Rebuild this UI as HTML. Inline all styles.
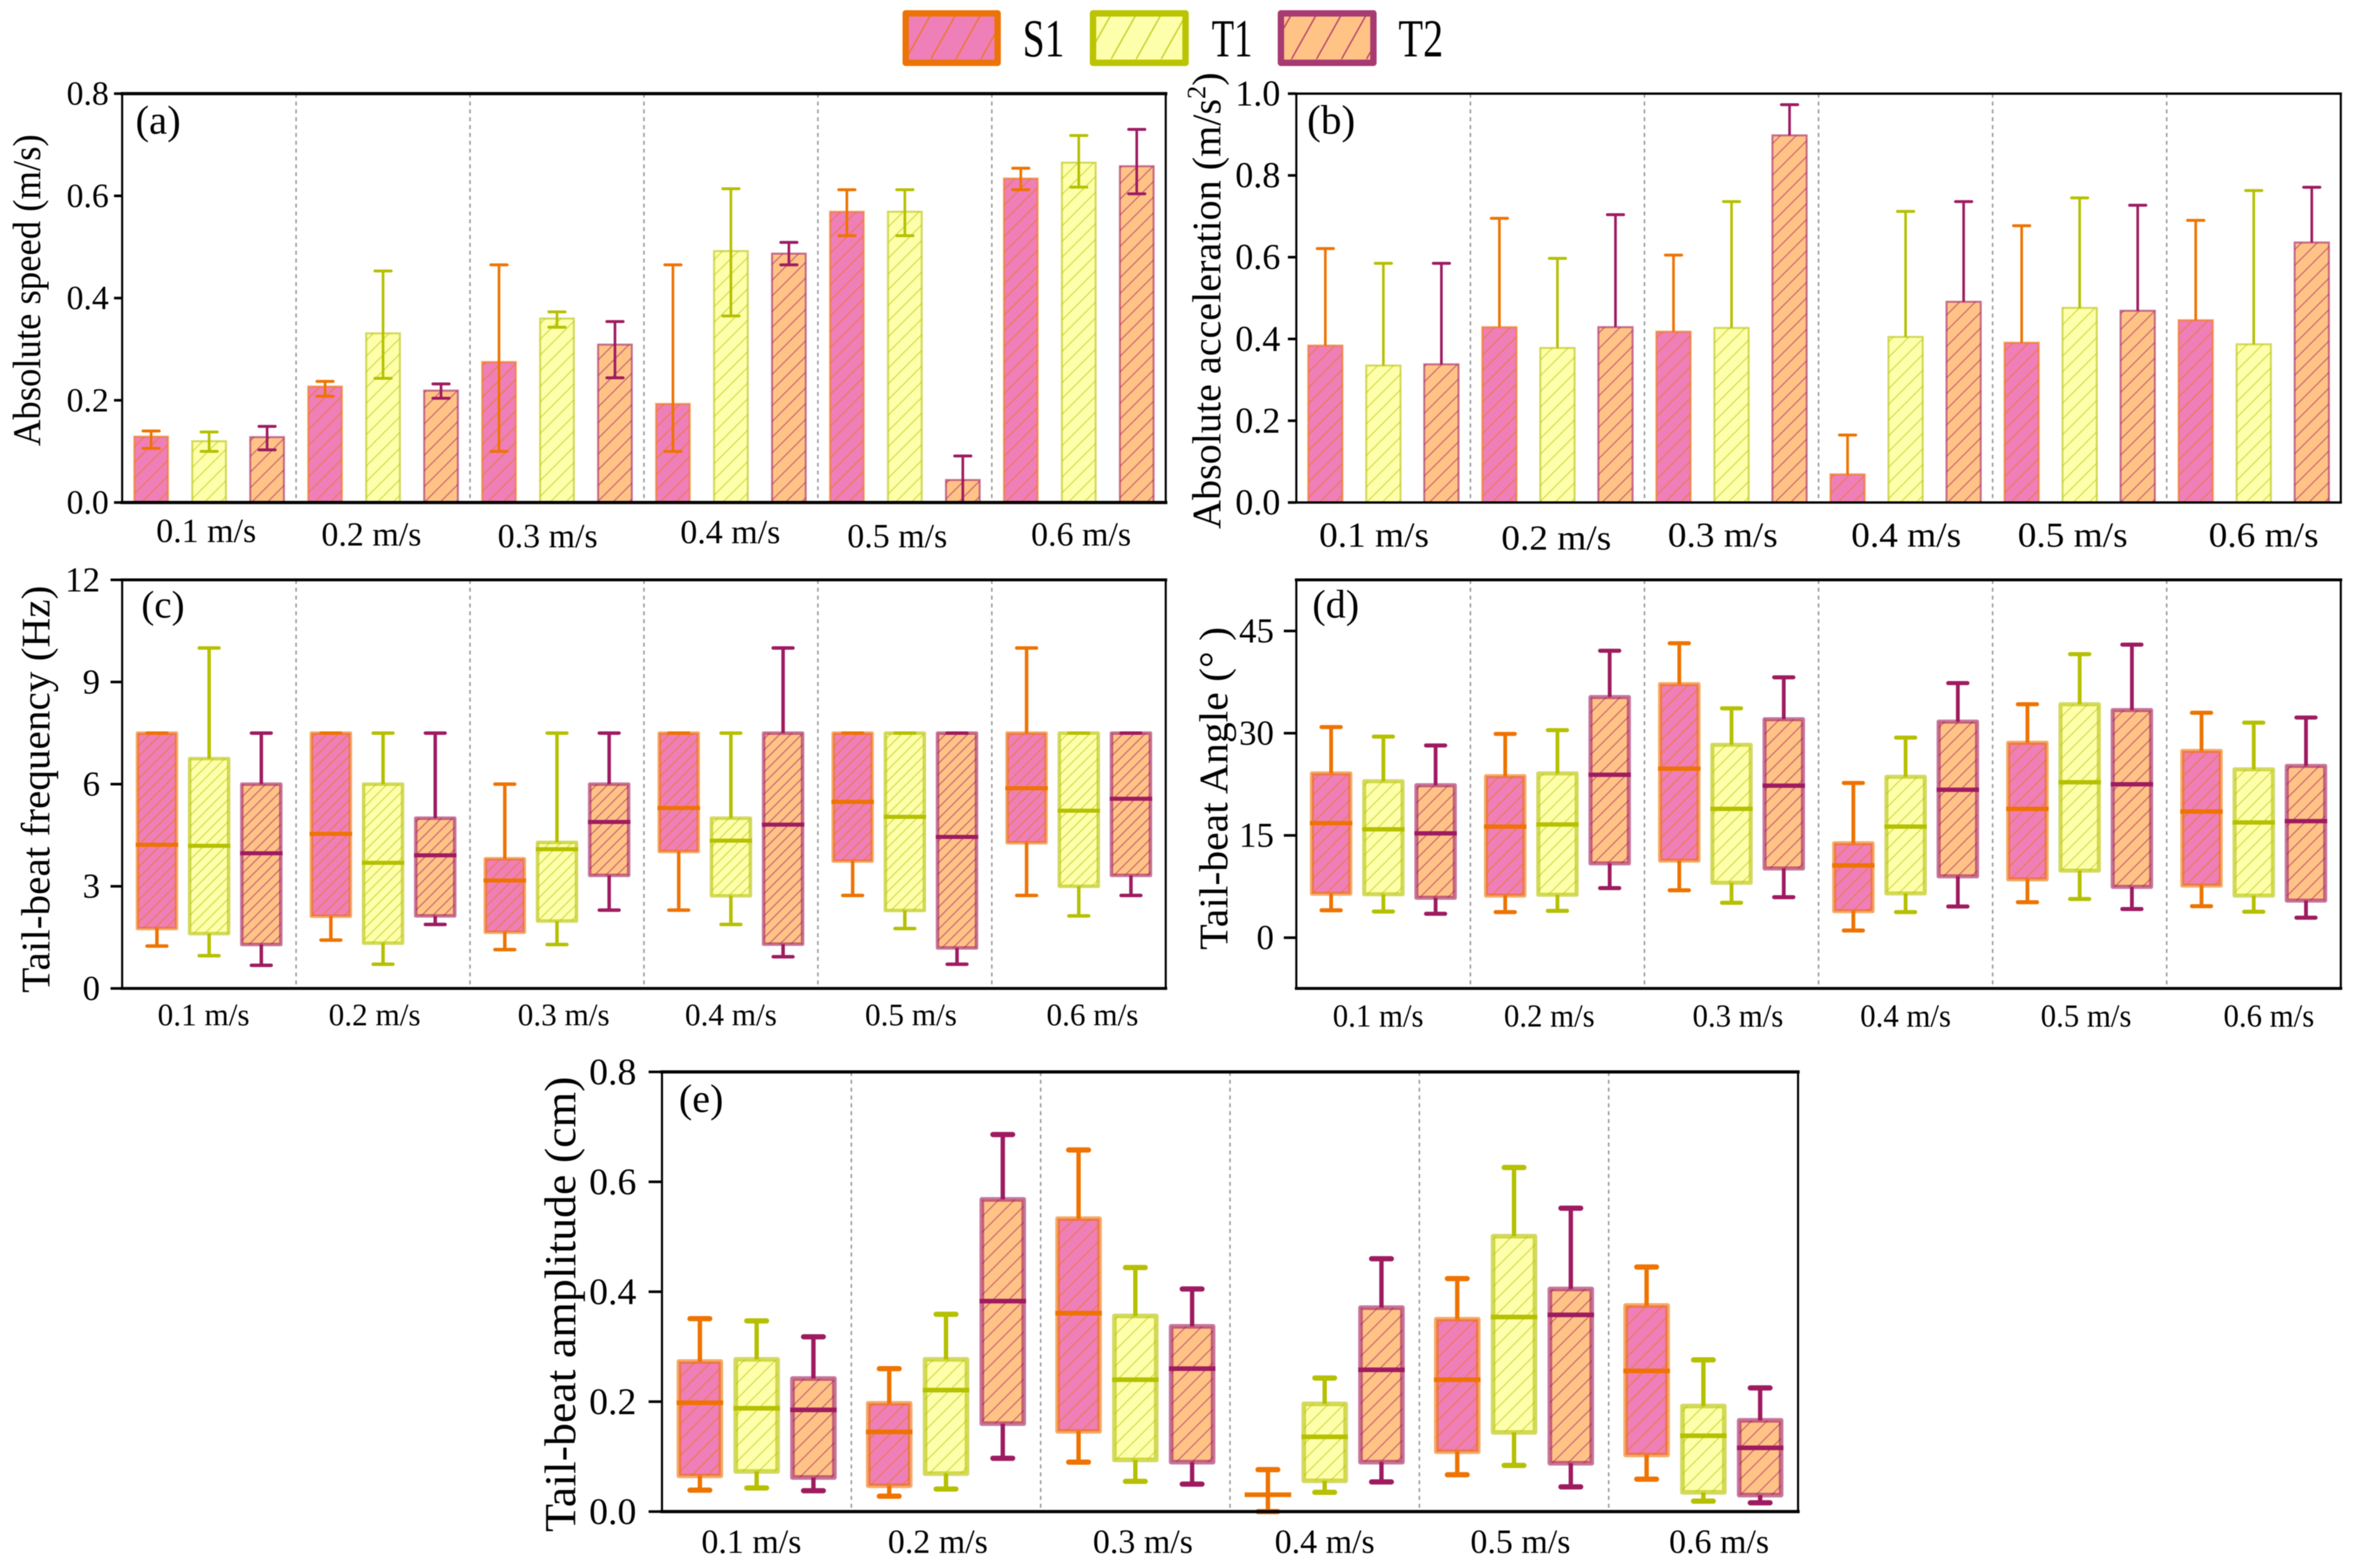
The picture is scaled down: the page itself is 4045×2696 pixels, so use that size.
<!DOCTYPE html>
<html lang="en">
<head>
<meta charset="utf-8">
<title>Swimming performance charts</title>
<style>
html,body{margin:0;padding:0;background:#fff;}
svg{display:block;font-family:"Liberation Serif","Times New Roman",serif;fill:#000;filter:blur(0.8px);}
</style>
</head>
<body>
<svg id="figure" xmlns="http://www.w3.org/2000/svg" width="4045" height="2696" viewBox="0 0 4045 2696">
  <defs id="defs"></defs>
  <rect x="0" y="0" width="4045" height="2696" fill="#ffffff"/>
  <g id="panels"></g>

  <g>
    <g>
      <rect x="1557" y="23" width="158" height="85" fill="#ee7fb8"/>
      <rect x="1557" y="23" width="158" height="85" fill="url(#legend-hatch-0)" stroke="#ec7407" stroke-width="11" stroke-linejoin="round"/>
      <text x="1758" y="97" font-size="92" textLength="72" lengthAdjust="spacingAndGlyphs">S1</text>
    </g>
    <g>
      <rect x="1879" y="23" width="159" height="85" fill="#fdffab"/>
      <rect x="1879" y="23" width="159" height="85" fill="url(#legend-hatch-1)" stroke="#bac400" stroke-width="11" stroke-linejoin="round"/>
      <text x="2083" y="97" font-size="92" textLength="70" lengthAdjust="spacingAndGlyphs">T1</text>
    </g>
    <g>
      <rect x="2202" y="23" width="159" height="85" fill="#ffc386"/>
      <rect x="2202" y="23" width="159" height="85" fill="url(#legend-hatch-2)" stroke="#a83a72" stroke-width="11" stroke-linejoin="round"/>
      <text x="2404" y="97" font-size="92" textLength="77" lengthAdjust="spacingAndGlyphs">T2</text>
    </g>
  </g>

  <text transform="translate(69,499) rotate(-90)" text-anchor="middle" font-size="68" textLength="536" lengthAdjust="spacingAndGlyphs">Absolute speed (m/s)</text>
  <text transform="translate(2098,517) rotate(-90)" text-anchor="middle" font-size="70" textLength="785" lengthAdjust="spacingAndGlyphs">Absolute acceleration (m/s<tspan dy="-26" font-size="46">2</tspan><tspan dy="26">)</tspan></text>
  <text transform="translate(85,1357) rotate(-90)" text-anchor="middle" font-size="70" textLength="700" lengthAdjust="spacingAndGlyphs">Tail-beat frequency (Hz)</text>
  <text transform="translate(2110,1355.5) rotate(-90)" text-anchor="middle" font-size="70" textLength="555" lengthAdjust="spacingAndGlyphs">Tail-beat Angle (° )</text>
  <text transform="translate(989,2242.5) rotate(-90)" text-anchor="middle" font-size="76" textLength="783" lengthAdjust="spacingAndGlyphs">Tail-beat amplitude (cm)</text>

  <text x="233" y="230" font-size="70">(a)</text>
  <text x="2247" y="230" font-size="71">(b)</text>
  <text x="243" y="1062" font-size="67">(c)</text>
  <text x="2256" y="1062" font-size="69">(d)</text>
  <text x="1167" y="1912" font-size="69">(e)</text>
</svg>

<script>
// ---------- shared categories ----------
const categories = ['0.1 m/s', '0.2 m/s', '0.3 m/s', '0.4 m/s', '0.5 m/s', '0.6 m/s'];
const seriesNames = ['S1', 'T1', 'T2'];

// ---------- (a) absolute speed: one value per bar, order S1,T1,T2 per category ----------
const speedMean = [0.129,0.12,0.128, 0.227,0.331,0.219, 0.275,0.36,0.309, 0.193,0.492,0.487, 0.569,0.569,0.044, 0.634,0.665,0.658];
const speedHigh = [0.14,0.138,0.149, 0.237,0.453,0.232, 0.465,0.373,0.354, 0.465,0.614,0.509, 0.612,0.612,0.091, 0.654,0.718,0.73];
const speedLow  = [0.106,0.1,0.103, 0.208,0.243,0.204, 0.1,0.343,0.244, 0.1,0.365,0.465, 0.522,0.522,0, 0.612,0.617,0.604];
const speedTicks = [0, 0.2, 0.4, 0.6, 0.8];
const speedTickLabels = ['0.0', '0.2', '0.4', '0.6', '0.8'];

// ---------- (b) absolute acceleration ----------
const accelMean = [0.384,0.335,0.338, 0.429,0.378,0.429, 0.418,0.427,0.898, 0.069,0.405,0.491, 0.391,0.476,0.469, 0.446,0.387,0.636];
const accelHigh = [0.621,0.585,0.585, 0.695,0.597,0.704, 0.605,0.736,0.973, 0.165,0.712,0.736, 0.677,0.745,0.727, 0.69,0.763,0.771];
const accelTicks = [0, 0.2, 0.4, 0.6, 0.8, 1.0];
const accelTickLabels = ['0.0', '0.2', '0.4', '0.6', '0.8', '1.0'];

// ---------- (c) tail-beat frequency ----------
const freqHi  = [7.5,10,7.5, 7.5,7.5,7.5, 6,7.5,7.5, 7.5,7.5,10, 7.5,7.5,7.5, 10,7.5,7.5];
const freqQ3  = [7.5,6.75,6, 7.5,6,5, 3.81,4.29,6, 7.5,5,7.5, 7.5,7.5,7.5, 7.5,7.5,7.5];
const freqMed = [4.22,4.19,3.97, 4.54,3.69,3.91, 3.17,4.09,4.89, 5.3,4.34,4.81, 5.48,5.04,4.45, 5.88,5.22,5.57];
const freqQ1  = [1.76,1.61,1.29, 2.12,1.33,2.13, 1.65,1.98,3.32, 4.02,2.72,1.3, 3.74,2.29,1.19, 4.28,3,3.32];
const freqLo  = [1.245,0.96,0.68, 1.42,0.71,1.88, 1.14,1.29,2.3, 2.3,1.88,0.93, 2.73,1.76,0.71, 2.73,2.13,2.73];
const freqTicks = [0, 3, 6, 9, 12];
const freqTickLabels = ['0', '3', '6', '9', '12'];

// ---------- (d) tail-beat angle ----------
const angleHi  = [30.9,29.5,28.2, 29.9,30.45,42.1, 43.2,33.65,38.2, 22.7,29.35,37.35, 34.25,41.6,43.0, 33.0,31.55,32.3];
const angleQ3  = [24.1,22.95,22.36, 23.7,24.1,35.3, 37.2,28.3,32.05, 13.85,23.6,31.7, 28.6,34.25,33.4, 27.4,24.7,25.2];
const angleMed = [16.8,15.9,15.3, 16.3,16.6,23.9, 24.8,18.9,22.3, 10.6,16.3,21.7, 18.9,22.8,22.5, 18.5,16.9,17.1];
const angleQ1  = [6.45,6.36,5.85, 6.17,6.3,10.9, 11.3,8.05,10.15, 3.89,6.49,9.0, 8.55,9.83,7.45, 7.64,6.17,5.44];
const angleLo  = [4.02,3.84,3.5, 3.75,3.93,7.27, 6.95,5.12,5.94, 1.05,3.75,4.57, 5.2,5.67,4.2, 4.62,3.8,2.93];
const angleTicks = [0, 15, 30, 45];
const angleTickLabels = ['0', '15', '30', '45'];

// ---------- (e) tail-beat amplitude ----------
const ampHi  = [0.351,0.347,0.318, 0.26,0.359,0.686, 0.658,0.444,0.405, 0.0763,0.243,0.46, 0.424,0.626,0.552, 0.445,0.276,0.225];
const ampQ3  = [0.273,0.277,0.242, 0.197,0.277,0.568, 0.533,0.356,0.337, 0,0.196,0.371, 0.35,0.501,0.405, 0.375,0.192,0.166];
const ampMed = [0.198,0.188,0.185, 0.145,0.221,0.383, 0.361,0.24,0.26, 0.0307,0.136,0.258, 0.24,0.354,0.358, 0.256,0.138,0.116];
const ampQ1  = [0.065,0.073,0.062, 0.047,0.069,0.16, 0.146,0.094,0.09, 0,0.056,0.09, 0.109,0.144,0.088, 0.103,0.035,0.03];
const ampLo  = [0.039,0.043,0.038, 0.028,0.041,0.097, 0.09,0.055,0.05, 0,0.035,0.054, 0.067,0.084,0.045, 0.059,0.019,0.016];
const ampTicks = [0, 0.2, 0.4, 0.6, 0.8];
const ampTickLabels = ['0.0', '0.2', '0.4', '0.6', '0.8'];

// ---------- styling ----------
const NS = 'http://www.w3.org/2000/svg';
const fillColors = ['#ee7fb8', '#fdffab', '#ffc386'];
const edgeColors = ['#ee7300', '#b5c000', '#9e1b60'];

function mk(tag, attrs, parent) {
  const el = document.createElementNS(NS, tag);
  for (const k in attrs) el.setAttribute(k, attrs[k]);
  parent.appendChild(el);
  return el;
}

const defs = document.getElementById('defs');
const hatchSizes = [19, 24, 27];
seriesNames.forEach(function (name, s) {
  hatchSizes.forEach(function (t) {
    const p = mk('pattern', {id: 'hatch-' + s + '-' + t, patternUnits: 'userSpaceOnUse', width: t, height: t}, defs);
    mk('path', {d: 'M-2,2 L2,-2 M0,' + t + ' L' + t + ',0 M' + (t - 2) + ',' + (t + 2) + ' L' + (t + 2) + ',' + (t - 2),
      stroke: edgeColors[s], 'stroke-opacity': 0.5, 'stroke-width': 2.2, fill: 'none'}, p);
  });
  const lp = mk('pattern', {id: 'legend-hatch-' + s, patternUnits: 'userSpaceOnUse', width: 43, height: 77, x: 1557 + s * 9, y: 25}, defs);
  mk('path', {d: 'M-4,84 L47,-7', stroke: edgeColors[s], 'stroke-opacity': 0.7, 'stroke-width': 2.6, fill: 'none'}, lp);
});

// ---------- panel layout (pixels live here, never in the data arrays) ----------
const panels = [
  {id: 'a', kind: 'bar', left: 210, right: 2004, top: 161, bottom: 864, yMin: 0, yMax: 0.8,
   ticks: speedTicks, tickLabels: speedTickLabels, mean: speedMean, high: speedHigh, low: speedLow,
   spread: 99.67, markW: 58, hatch: 27, edgeW: 3.5, capW: 33, capT: 5, whiskW: 4.5, hSpine: 5.5,
   tickFs: 58, tickRight: 187, tickLeft: 196,
   labelFs: 58, labelW: 172, labelNudge: [-5,-20,-16,-1,-13,4], labelBase: [932,938,941,934,941,938]},
  {id: 'b', kind: 'bar', left: 2228.5, right: 4024, top: 161, bottom: 864, yMin: 0, yMax: 1,
   ticks: accelTicks, tickLabels: accelTickLabels, mean: accelMean, high: accelHigh, low: null,
   spread: 99.75, markW: 59, hatch: 27, edgeW: 3.5, capW: 33, capT: 5, whiskW: 4.5, hSpine: 4,
   tickFs: 62, tickRight: 2201, tickLeft: 2214,
   labelFs: 60, labelW: 189, labelNudge: [-16,-2,-15,1,-12,17], labelBase: [940,945,940,940,940,940]},
  {id: 'c', kind: 'box', left: 210, right: 2004, top: 997, bottom: 1699.5, yMin: 0, yMax: 12,
   ticks: freqTicks, tickLabels: freqTickLabels, hi: freqHi, q3: freqQ3, med: freqMed, q1: freqQ1, lo: freqLo,
   spread: 89.7, markW: 67, hatch: 19, edgeW: 6, capW: 40, capT: 6, whiskW: 6, medT: 7, hSpine: 5,
   tickFs: 60, tickRight: 172, tickLeft: 190,
   labelFs: 54, labelW: 158, labelNudge: [-9.5,-14.5,11.5,0,10.5,23.5], labelBase: [1763,1763,1763,1763,1763,1763]},
  {id: 'd', kind: 'box', left: 2228.5, right: 4024, top: 997, bottom: 1699.5, yMin: -7.45, yMax: 52.5,
   ticks: angleTicks, tickLabels: angleTickLabels, hi: angleHi, q3: angleQ3, med: angleMed, q1: angleQ1, lo: angleLo,
   spread: 89.8, markW: 66, hatch: 24, edgeW: 7, capW: 40, capT: 7, whiskW: 6.5, medT: 7.5, hSpine: 5,
   tickFs: 60, tickRight: 2190, tickLeft: 2207,
   labelFs: 55, labelW: 156, labelNudge: [-9,-14,11,0,11,26], labelBase: [1765,1765,1765,1765,1765,1765]},
  {id: 'e', kind: 'box', left: 1138, right: 3091, top: 1843, bottom: 2599, yMin: 0, yMax: 0.8,
   ticks: ampTicks, tickLabels: ampTickLabels, hi: ampHi, q3: ampQ3, med: ampMed, q1: ampQ1, lo: ampLo,
   spread: 97.6, markW: 72, hatch: 27, edgeW: 8, capW: 43, capT: 9, whiskW: 7.5, medT: 8, hSpine: 5.5,
   tickFs: 65, tickRight: 1094, tickLeft: 1115,
   labelFs: 58, labelW: 172, labelNudge: [-9,-14,13,0,11,27], labelBase: [2670,2670,2670,2670,2670,2670]}
];

// ---------- axis functions ----------
function yScale(p, v) {
  return p.bottom - (v - p.yMin) * (p.bottom - p.top) / (p.yMax - p.yMin);
}
function groupCenter(p, g) {
  return p.left + (g + 0.5) * (p.right - p.left) / categories.length;
}
function xScale(p, i) {
  const g = Math.floor(i / seriesNames.length);
  const s = i % seriesNames.length;
  return groupCenter(p, g) + (s - 1) * p.spread;
}

function drawWhisker(parent, p, x, yFrom, yTo, s, tag) {
  const w = mk('line', {x1: x, x2: x, y1: yFrom, y2: yTo, stroke: edgeColors[s], 'stroke-width': p.whiskW}, parent);
  
  
}
function drawCap(parent, p, x, y, s, tag) {
  const half = p.capW / 2 - p.capT / 2;
  const c = mk('line', {x1: x - half, x2: x + half, y1: y, y2: y, stroke: edgeColors[s], 'stroke-width': p.capT, 'stroke-linecap': 'round'}, parent);
  
  
}

function drawBar(parent, p, i) {
  const s = i % seriesNames.length;
  const g = Math.floor(i / seriesNames.length);
  const x = xScale(p, i);
  const yTop = yScale(p, p.mean[i]);
  const yBase = yScale(p, 0);
  const tag = p.id + '-' + seriesNames[s].toLowerCase() + '-' + (g + 1);
  const group = mk('g', {}, parent);
  
  
  const base = mk('rect', {x: x - p.markW / 2, y: yTop, width: p.markW, height: yBase - yTop, fill: fillColors[s]}, group);
  
  
  const hatch = mk('rect', {x: x - p.markW / 2, y: yTop, width: p.markW, height: yBase - yTop,
    fill: 'url(#hatch-' + s + '-' + p.hatch + ')', stroke: edgeColors[s], 'stroke-opacity': 0.58, 'stroke-width': p.edgeW}, group);
  
  
  const yLow = p.low ? yScale(p, p.low[i]) : yTop;
  drawWhisker(group, p, x, yScale(p, p.high[i]), yLow, s, tag);
  drawCap(group, p, x, yScale(p, p.high[i]), s, 'high-' + tag);
  if (p.low) drawCap(group, p, x, yLow, s, 'low-' + tag);
}

function drawBox(parent, p, i) {
  const s = i % seriesNames.length;
  const g = Math.floor(i / seriesNames.length);
  const x = xScale(p, i);
  const yQ3 = yScale(p, p.q3[i]);
  const yQ1 = yScale(p, p.q1[i]);
  const yMed = yScale(p, p.med[i]);
  const yHi = yScale(p, p.hi[i]);
  const yLo = yScale(p, p.lo[i]);
  const tag = p.id + '-' + seriesNames[s].toLowerCase() + '-' + (g + 1);
  const group = mk('g', {}, parent);
  
  
  const base = mk('rect', {x: x - p.markW / 2, y: yQ3, width: p.markW, height: yQ1 - yQ3, fill: fillColors[s]}, group);
  
  
  const hatch = mk('rect', {x: x - p.markW / 2, y: yQ3, width: p.markW, height: yQ1 - yQ3,
    fill: 'url(#hatch-' + s + '-' + p.hatch + ')', stroke: edgeColors[s], 'stroke-opacity': 0.6,
    'stroke-width': p.edgeW, 'stroke-linejoin': 'round'}, group);
  
  
  drawWhisker(group, p, x, yHi, yQ3, s, 'high-' + tag);
  drawWhisker(group, p, x, yQ1, yLo, s, 'low-' + tag);
  drawCap(group, p, x, yHi, s, 'high-' + tag);
  drawCap(group, p, x, yLo, s, 'low-' + tag);
  const half = p.markW / 2 + p.edgeW / 2;
  const m = mk('line', {x1: x - half, x2: x + half, y1: yMed, y2: yMed, stroke: edgeColors[s], 'stroke-width': p.medT}, group);
  
  
}

function drawPanel(p) {
  const root = document.getElementById('panels');
  const g = mk('g', {}, root);
  
  

  // group dividers
  for (let d = 1; d < categories.length; d++) {
    const x = p.left + d * (p.right - p.left) / categories.length;
    const dv = mk('line', {x1: x, x2: x, y1: p.top, y2: p.bottom, stroke: '#9a9a9a', 'stroke-width': 2.6, 'stroke-dasharray': '7 6.5'}, g);
    
    
  }

  // marks
  const count = categories.length * seriesNames.length;
  for (let i = 0; i < count; i++) {
    if (p.kind === 'bar') drawBar(g, p, i);
    else drawBox(g, p, i);
  }

  // frame
  const edges = [
    [p.left, p.top, p.right, p.top, p.hSpine, 'spine-top'],
    [p.left, p.bottom, p.right, p.bottom, p.hSpine, 'spine-bottom'],
    [p.left, p.top, p.left, p.bottom, 3.6, 'spine-left'],
    [p.right, p.top, p.right, p.bottom, 3.6, 'spine-right']
  ];
  edges.forEach(function (e) {
    const sp = mk('line', {x1: e[0], y1: e[1], x2: e[2], y2: e[3], stroke: '#000', 'stroke-width': e[4], 'stroke-linecap': 'square'}, g);
    
    
  });

  // y ticks
  p.ticks.forEach(function (t, k) {
    const y = yScale(p, t);
    const tm = mk('line', {x1: p.tickLeft, x2: p.left, y1: y, y2: y, stroke: '#000', 'stroke-width': 4.5}, g);
    
    
    const tl = mk('text', {x: p.tickRight, y: y + p.tickFs * 0.33, 'text-anchor': 'end', 'font-size': p.tickFs}, g);
    tl.textContent = p.tickLabels[k];
    
    
  });

  // x labels
  categories.forEach(function (c, k) {
    const lb = mk('text', {x: groupCenter(p, k) + p.labelNudge[k], y: p.labelBase[k], 'text-anchor': 'middle',
      'font-size': p.labelFs, textLength: p.labelW, lengthAdjust: 'spacingAndGlyphs'}, g);
    lb.textContent = c;
    
    
  });
}

panels.forEach(drawPanel);
</script>
</body>
</html>
